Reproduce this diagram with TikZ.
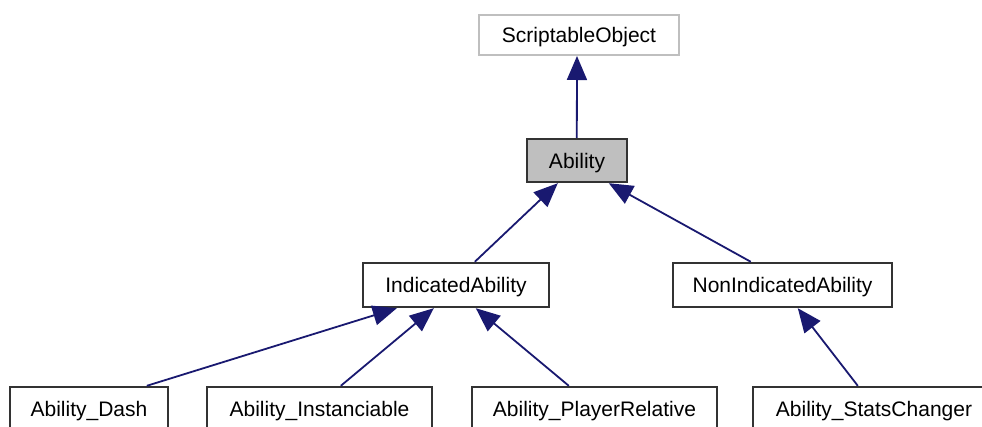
\documentclass[tikz,border=0pt]{standalone}
\usepackage{fontspec}
\setmainfont{Liberation Sans}
\usetikzlibrary{arrows.meta}
\definecolor{edgeblue}{HTML}{191970}
\definecolor{boxgray}{HTML}{BFBFBF}
\definecolor{boxline}{HTML}{333333}
\tikzset{
  cls/.style={draw=boxline, line width=2.4pt, fill=white, inner sep=0pt,
    font=\fontsize{21}{21}\selectfont, text height=15pt, text depth=0pt},
  extcls/.style={cls, draw=boxgray, line width=2pt},
  curcls/.style={cls, fill=boxgray},
  inh/.style={draw=edgeblue, line width=1.8pt,
    -{Triangle[length=24pt, width=20pt]}}
}
\begin{document}
\begin{tikzpicture}[x=1pt, y=-1pt]
\useasboundingbox (0,0) rectangle (982,426);

% class boxes
\node[extcls, minimum width=200pt, minimum height=40pt] (so) at (579,35) {ScriptableObject};
\node[curcls, minimum width=100pt, minimum height=43pt] (ab) at (577,160.5) {Ability};
\node[cls, minimum width=186pt, minimum height=44pt] (ia) at (456,285) {IndicatedAbility};
\node[cls, minimum width=219pt, minimum height=44pt] (nia) at (782.5,285) {NonIndicatedAbility};
\node[cls, minimum width=158pt, minimum height=44pt] (dash) at (89,409) {Ability\_Dash};
\node[cls, minimum width=225pt, minimum height=44pt] (inst) at (319.5,409) {Ability\_Instanciable};
\node[cls, minimum width=245pt, minimum height=44pt] (pr) at (594.5,409) {Ability\_PlayerRelative};
\node[cls, minimum width=242pt, minimum height=44pt] (sc) at (874,409) {Ability\_StatsChanger};

% inheritance arrows
\draw[inh] ([xshift=51pt]ab.north west) -- ([xshift=99pt]so.south west);
\draw[inh] ([xshift=113pt]ia.north west) -- ([xshift=32pt]ab.south west);
\draw[inh] ([xshift=79pt]nia.north west) -- ([xshift=83pt]ab.south west);
\draw[inh] ([xshift=138pt]dash.north west) -- ([xshift=35pt]ia.south west);
\draw[inh] ([xshift=135pt]inst.north west) -- ([xshift=72pt]ia.south west);
\draw[inh] ([xshift=98pt]pr.north west) -- ([xshift=114pt]ia.south west);
\draw[inh] ([xshift=106pt]sc.north west) -- ([xshift=126pt]nia.south west);
\end{tikzpicture}
\end{document}
